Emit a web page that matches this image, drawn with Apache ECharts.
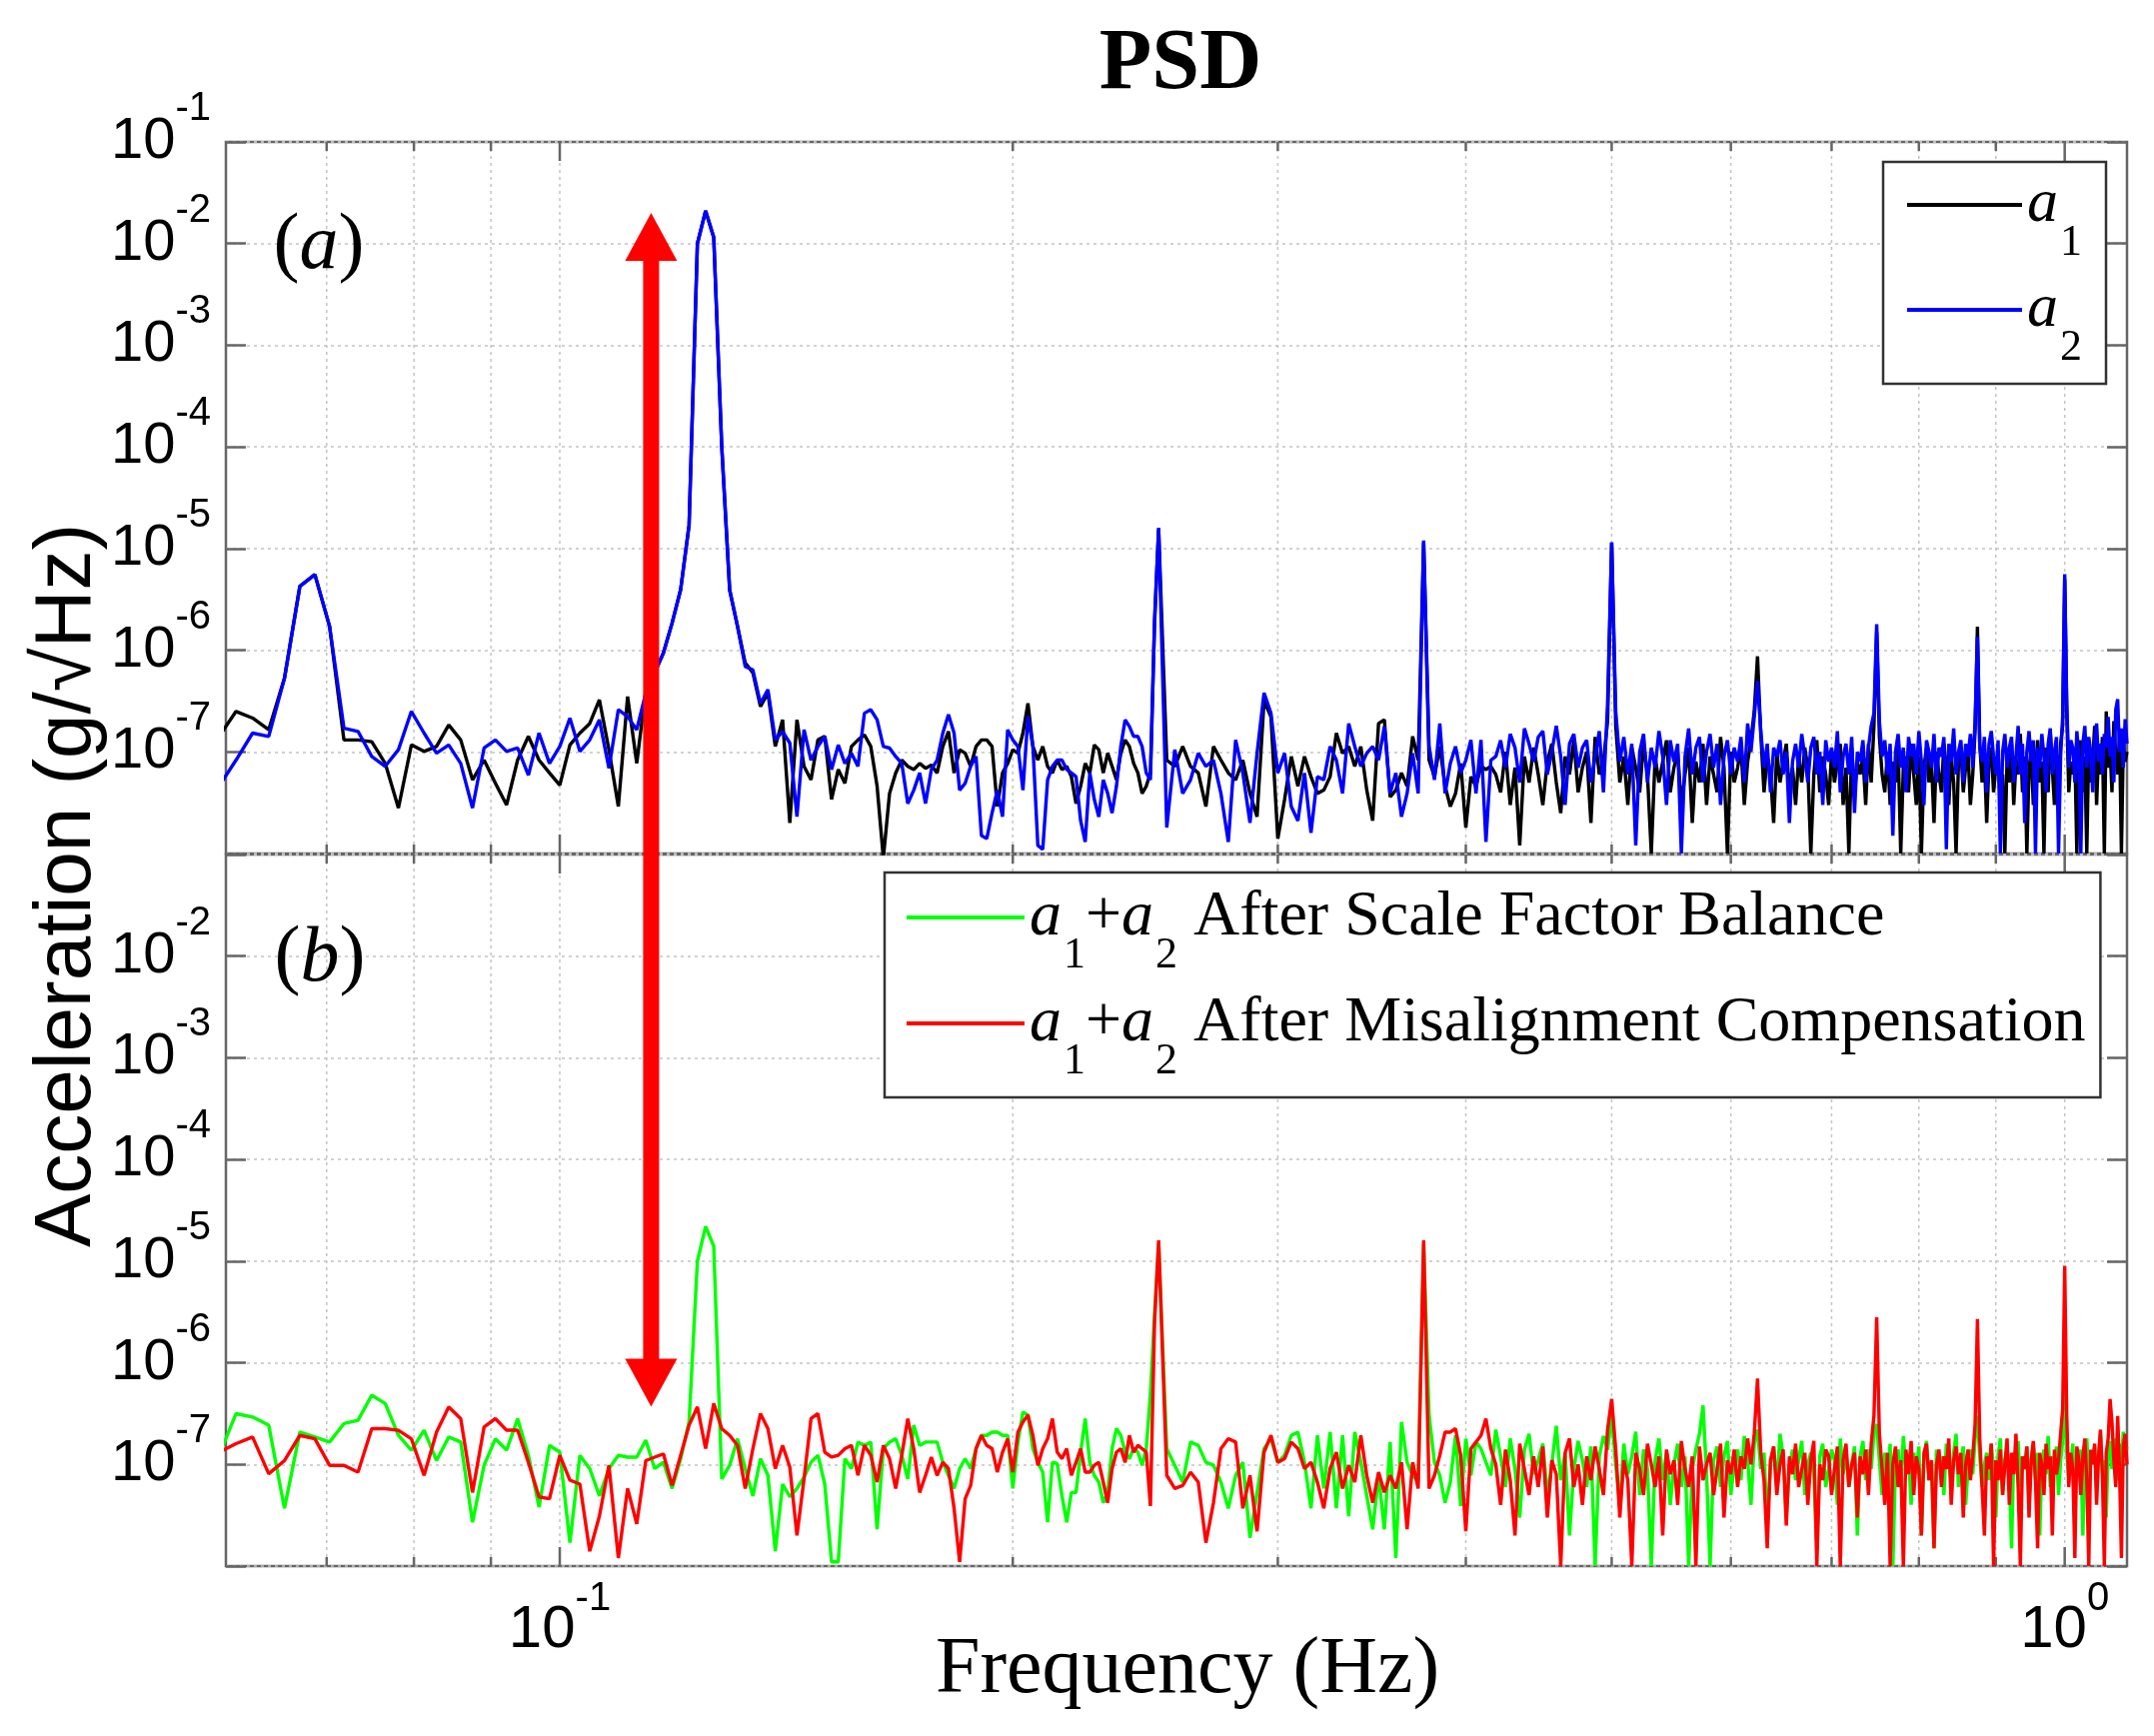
<!DOCTYPE html>
<html>
<head>
<meta charset="utf-8">
<title>PSD</title>
<script src="https://cdn.jsdelivr.net/npm/echarts@6/dist/echarts.min.js"></script>
<style>
  html, body { margin: 0; padding: 0; background: #fff; }
  #chart { width: 2155px; height: 1737px; }
</style>
</head>
<body>
<div id="chart"></div>
<script>
// FFT bins of 1/640 Hz: every bin up to 0.25 Hz, every other bin above
const BIN_HZ = 1 / 640;
const LOW_BINS = [38, 160];   // step 1
const HIGH_BINS = [162, 704]; // step 2
const UNIT = 1e-8;            // values below are in units of 1e-8 g/sqrt(Hz)

// (a) a1, k = 38..160
const a1Low = [
  14.2, 25, 21.5, 16.5, 53, 425, 555, 172, 13.1, 13.1,
  12.6, 7.7, 2.8, 11.7, 10.1, 11.3, 18.4, 13.1, 5.3, 8.3,
  4.9, 3.0, 8.3, 14.2, 8.3, 6.2, 4.7, 11.7, 15.3, 19,
  32.5, 10.5, 2.9, 35, 7.7, 40, 60, 94, 185, 394,
  1700, 1e6, 2.1e6, 1.15e6, 1e4, 390, 172, 75, 60, 28,
  38, 11.3, 20.7, 2.0, 20.7, 7.2, 5.3, 13.1, 14.2, 3.4,
  6.7, 4.9, 11.3, 13.1, 14.7,
  11.3, 4.6, 0.9, 3.9, 6.2, 8.3, 7.2, 6.7, 7.7, 6.9,
  7.4, 6.2, 11.3, 15.9, 6.2, 10.5, 9.7, 7.2, 11.3, 13.1,
  13.1, 11.3, 2.9, 6.2, 7.7, 10.5, 9.7, 15.3, 30, 11.3,
  8.3, 11.3, 7.2, 6.2, 8.3, 6.7, 7.2, 5.7, 3.1, 4.6,
  7.7, 6.2, 11.7, 10.5, 6.2, 9.7, 7.2, 5.3, 9.7, 13.1,
  11.3, 7.7, 6.2, 3.9, 4.6, 6.2, 180, 1550
];
// (a) a1, k = 162..704 step 2
const a1High = [
  8.3, 7.2, 11.3, 7.2, 6.2, 2.9, 11.3, 8.3, 6.2, 5.3,
  8.3, 3.9, 2.3, 32, 22, 1.4, 3.4, 9.0, 4.6, 9.0,
  5.7, 3.9, 4.2, 5.7, 15.3, 9.7, 11.3, 7.2, 11.3, 4.2,
  2.1, 19, 20.7, 3.6, 4.2, 6.2, 4.6, 14.2, 8.3, 1150,
  8.3, 5.7, 11.3, 4.6, 2.9, 3.9, 7.7, 1.8, 5.7, 4.6,
  7.2, 6.7, 7.2,
  6, 4, 10, 3, 7, 1.2, 9, 5, 11, 6,
  3, 8, 12, 5, 2.5, 9, 6, 13, 4, 7,
  10, 2, 14, 6, 8, 20, 1150, 18, 5, 9,
  3, 11, 7, 4, 12, 6, 1.0, 9, 5, 8,
  13, 4, 7, 10, 3, 6, 11, 2, 8, 5,
  12, 3, 9, 6, 4, 14, 7, 1.0, 10, 5,
  7, 11, 3, 8, 13, 25, 87, 15, 4, 9,
  6, 2, 10, 5, 8, 12, 4, 7, 3, 9,
  5, 11, 7, 1.0, 6, 13, 4, 9, 6, 3,
  10, 5, 8, 12, 3, 7, 1.0, 11, 4, 8,
  6, 9, 3, 12, 5, 18, 150, 14, 6, 4,
  10, 3, 8, 5, 11, 1.0, 7, 9, 4, 12,
  6, 3, 9, 1.0, 7, 11, 5, 8, 2, 10,
  6, 4, 12, 7, 3, 9, 5, 1.0, 8, 11,
  4, 7, 10, 3, 6, 16, 170, 12, 5, 9,
  2, 8, 11, 4, 7, 10, 3, 6, 1.0, 9,
  5, 12, 3, 8, 6, 15, 4, 9, 1.0, 7,
  10, 3, 6, 13, 5, 8, 1.0, 11, 4, 16,
  7, 3, 9, 5, 12, 18, 500, 25, 4, 8,
  6, 10, 1.0, 7, 13, 4, 9, 1.0, 12, 5,
  8, 18, 3, 10, 6, 14, 1.0, 25, 7, 11,
  4, 20, 9, 6, 15, 1.0, 12, 8, 10
];

// (a) a2
const a2Low = [
  4.6, 8.3, 15.3, 14.2, 53, 425, 555, 172, 17.1, 15.9,
  9.0, 7.2, 10.5, 25, 15.3, 9.7, 11.7, 7.7, 2.8, 10.9,
  13.1, 10.1, 10.9, 5.9, 15.3, 7.7, 11.3, 21.5, 10.1, 13.1,
  20.7, 6.9, 26, 22.3, 16.5, 38, 60, 94, 185, 394,
  1700, 1e6, 2.1e6, 1.15e6, 1e4, 390, 172, 69, 64, 30,
  41, 13.1, 15.9, 12.2, 2.3, 16.5, 8.3, 11.3, 14.2, 6.7,
  11.7, 7.7, 9.7, 7.2, 24,
  26, 20.7, 11.3, 10.9, 9.0, 7.7, 3.1, 4.2, 6.2, 3.1,
  6.7, 8.3, 15.3, 23.2, 15.3, 4.2, 4.9, 7.2, 9.0, 1.5,
  1.4, 2.5, 4.2, 2.3, 16.5, 13.1, 11.3, 4.2, 22.3, 11.3,
  1.2, 1.1, 5.3, 7.2, 8.3, 8.3, 6.7, 6.2, 5.7, 2.1,
  1.3, 6.2, 3.4, 2.3, 5.3, 3.9, 2.5, 4.6, 11.3, 20.7,
  17.8, 14.2, 14.2, 11.3, 6.2, 5.3, 200, 1600
];
const a2High = [
  1.8, 10.5, 3.9, 5.3, 9.7, 7.2, 8.3, 3.9, 1.3, 13.1,
  6.2, 2.0, 9.7, 38, 24, 6.2, 9.7, 2.9, 2.1, 6.2,
  1.6, 5.7, 5.3, 11.3, 8.3, 3.9, 19, 11.3, 7.2, 9.7,
  11.3, 8.3, 17.8, 3.9, 6.2, 2.3, 3.9, 9.7, 3.9, 1200,
  11.3, 5.3, 19, 3.9, 7.7, 11.3, 6.2, 8.3, 13.1, 3.9,
  13.1, 1.3, 8.3,
  9, 13, 7, 15, 11, 5, 17, 12, 8, 14,
  16, 6, 10, 18, 9, 3, 12, 15, 7, 11,
  13, 5, 9, 16, 4, 30, 1150, 25, 8, 14,
  6, 12, 1.2, 10, 15, 5, 11, 7, 16, 9,
  3, 13, 8, 12, 1.0, 9, 17, 6, 11, 14,
  5, 10, 15, 7, 12, 3, 9, 13, 6, 11,
  8, 14, 5, 19, 10, 22, 50, 16, 7, 12,
  4, 11, 9, 13, 6, 10, 2, 8, 12, 7,
  15, 9, 5, 11, 14, 6, 10, 3, 13, 8,
  11, 7, 16, 4, 9, 12, 6, 14, 2.5, 10,
  8, 13, 5, 11, 18, 24, 180, 20, 9, 13,
  6, 12, 1.5, 10, 15, 7, 11, 4, 14, 9,
  12, 6, 16, 8, 3, 13, 10, 7, 15, 5,
  11, 9, 14, 1.1, 12, 8, 17, 6, 10, 13,
  5, 12, 9, 15, 7, 20, 135, 11, 8, 14,
  4, 12, 16, 9, 6, 13, 1.0, 10, 15, 7,
  11, 14, 5, 9, 18, 6, 12, 2, 10, 16,
  8, 13, 1.0, 11, 7, 15, 9, 4, 12, 17,
  6, 10, 14, 1.0, 9, 22, 560, 30, 7, 13,
  11, 5, 16, 9, 1.0, 12, 18, 7, 14, 10,
  4, 13, 19, 8, 12, 6, 15, 11, 22, 9,
  14, 5, 26, 33, 10, 17, 7, 21, 12
];

// (b) a1+a2 after scale factor balance
const sfbLow = [
  12.3, 31.6, 29.3, 24.3, 3.7, 20.8, 18.6, 16.6, 25.2, 27.2,
  48, 39.7, 19.3, 13.8, 21.7, 10.9, 18.6, 16.6, 2.7, 9.8,
  17.9, 13.8, 28.2, 12.3, 3.8, 15.4, 13.2, 1.7, 12.3, 9.1,
  4.9, 9.1, 12.3, 11.8, 11.8, 17.3, 9.1, 10.5, 5.8, 11.4,
  26.2, 1000, 2200, 1400, 7.2, 9.8, 17.9, 9.1, 4.9, 11.4,
  7.8, 1.4, 6.4, 4.8, 5.8, 7.5, 10.5, 12.3, 6.4, 1.1,
  1.1, 11.4, 9.1, 16.6, 15.4,
  16.6, 2.3, 14.3, 16.6, 17.9, 12.3, 7.2, 24.3, 15.4, 16.6,
  16.6, 16.6, 10.5, 7.8, 5.8, 9.1, 11.4, 9.1, 14.3, 19.3,
  19.3, 20.8, 20.8, 19.3, 19.3, 5.8, 16.6, 32.8, 30.5, 14.3,
  10.5, 8.4, 2.7, 10.5, 10.2, 4.9, 2.7, 5.3, 5.3, 13.2,
  28.2, 10.5, 7.8, 6.7, 4.2, 5.3, 14.3, 22.5, 19.3, 13.2,
  11.4, 14.3, 13.2, 9.8, 14.3, 50, 300, 1500
];
const sfbHigh = [
  14.3, 9.8, 6.7, 16.6, 15.4, 10.5, 9.8, 6.7, 3.7, 7.8,
  10.5, 1.9, 5.3, 14.3, 17.9, 10.5, 12.3, 19.3, 20.8, 10.5,
  3.7, 19.3, 5.8, 20.8, 3.7, 19.3, 3.1, 20.8, 10.5, 4.9,
  2.3, 7.8, 2.3, 16.6, 1.2, 26.2, 10.5, 7.8, 6.7, 1500,
  30.5, 10.5, 7.8, 4.2, 6.7, 19.3, 3.9, 17.9, 7.8, 16.6,
  14.3, 10.5, 7.8,
  22, 12, 6, 18, 9, 3, 14, 20, 8, 11,
  16, 5, 10, 24, 7, 13, 2, 9, 17, 11,
  6, 15, 1.0, 12, 19, 14, 30, 10, 4, 16,
  8, 12, 21, 5, 14, 9, 1.0, 11, 18, 7,
  13, 4, 10, 16, 6, 12, 1.0, 9, 14, 20,
  38, 8, 1.0, 11, 15, 6, 12, 17, 5, 10,
  14, 7, 19, 11, 4, 16, 22, 9, 13, 2.5,
  10, 15, 6, 20, 12, 3, 9, 14, 7, 11,
  17, 5, 10, 13, 8, 1.5, 12, 16, 6, 9,
  14, 11, 4, 18, 8, 13, 6, 10, 15, 2,
  12, 17, 7, 14, 9, 20, 25, 11, 5, 13,
  8, 16, 1.0, 10, 14, 6, 19, 9, 12, 4,
  13, 8, 15, 2, 11, 17, 7, 10, 1.5, 14,
  9, 12, 5, 16, 10, 7, 13, 20, 6, 11,
  15, 4, 9, 14, 8, 18, 30, 12, 6, 10,
  13, 7, 16, 9, 3, 12, 18, 5, 11, 14,
  8, 1.5, 13, 10, 17, 6, 12, 9, 15, 4,
  11, 16, 7, 13, 2, 10, 14, 8, 19, 6,
  12, 9, 15, 5, 11, 17, 60, 13, 7, 10,
  16, 4, 12, 9, 14, 2, 11, 18, 7, 13,
  10, 15, 6, 12, 20, 8, 11, 3, 14, 17,
  9, 13, 18, 7, 16, 10, 21, 12, 15
];

// (b) a1+a2 after misalignment compensation
const macLow = [
  13.2, 16, 18.6, 8.1, 10.9, 19.3, 17.9, 9.8, 9.8, 8.4,
  22.5, 22.5, 21.7, 17.9, 7.8, 20.8, 36.8, 28.2, 5.3, 23.3,
  28.2, 21.7, 21.7, 10.5, 4.8, 4.6, 12.3, 7.0, 6.4, 1.4,
  3.1, 9.8, 1.2, 5.8, 2.6, 10.9, 11.8, 12.7, 6.2, 12.3,
  24.3, 36.8, 14.3, 39.7, 22.5, 19.3, 15.4, 5.8, 14.3, 31.6,
  22.5, 9.1, 15.4, 9.4, 2.0, 7.2, 28.2, 31.6, 13.2, 11.8,
  12.3, 14.3, 15.4, 7.8, 15.4,
  12.3, 6.7, 15.4, 11.4, 5.8, 12.3, 28.2, 14.3, 5.3, 7.8,
  11.8, 7.8, 10.5, 9.1, 3.7, 1.1, 4.6, 6.2, 14.3, 19.3,
  15.4, 14.3, 8.4, 13.2, 17.9, 8.4, 20.8, 26.2, 30.5, 19.3,
  9.8, 14.3, 17.9, 28.2, 13.2, 11.4, 14.3, 7.8, 10.5, 14.3,
  8.4, 8.4, 9.8, 10.5, 6.7, 4.2, 9.1, 13.2, 14.3, 10.5,
  19.3, 13.2, 15.4, 14.3, 13.2, 3.9, 250, 1600
];
const macHigh = [
  7.8, 5.8, 6.2, 8.4, 6.7, 1.7, 4.2, 14.3, 17.9, 16.6,
  3.7, 7.8, 2.2, 13.2, 19.3, 10.5, 11.4, 16.6, 14.3, 9.1,
  10.5, 6.7, 3.7, 9.1, 13.2, 5.8, 9.8, 6.7, 19.3, 7.8,
  4.2, 8.4, 5.3, 7.8, 5.8, 10.5, 2.3, 10.5, 5.8, 1600,
  5.8, 7.8, 12.3, 20.8, 20.8, 22.5, 12.3, 2.2, 14.3, 16.6,
  19.3, 28.2, 14.3,
  10, 4, 14, 7, 2, 16, 9, 5, 12, 6,
  15, 3, 11, 8, 1.0, 13, 18, 6, 10, 4,
  12, 7, 15, 9, 5, 22, 44, 14, 3, 11,
  7, 1.0, 13, 9, 5, 16, 10, 6, 12, 2,
  14, 8, 11, 4, 17, 9, 6, 12, 1.0, 15,
  7, 10, 13, 5, 9, 16, 3, 11, 8, 14,
  6, 12, 9, 18, 10, 20, 70, 13, 7, 1.5,
  11, 15, 5, 10, 14, 2.5, 12, 8, 16, 6,
  9, 13, 4, 11, 17, 1.0, 10, 7, 14, 12,
  5, 9, 15, 1.0, 11, 16, 6, 10, 13, 3,
  12, 8, 14, 5, 16, 30, 280, 20, 9, 4,
  13, 1.0, 10, 15, 6, 11, 1.0, 14, 8, 17,
  5, 12, 9, 2, 13, 16, 7, 11, 1.5, 10,
  14, 6, 12, 9, 18, 4, 11, 15, 8, 13,
  3, 10, 14, 7, 12, 25, 270, 18, 6, 2,
  12, 9, 16, 1.0, 11, 7, 14, 5, 10, 18,
  4, 13, 8, 20, 6, 1.0, 12, 9, 15, 3,
  11, 17, 7, 1.5, 13, 10, 5, 16, 9, 12,
  2, 14, 8, 11, 20, 35, 900, 30, 6, 13,
  9, 1.2, 15, 11, 5, 12, 18, 7, 1.0, 14,
  10, 16, 4, 12, 22, 8, 1.0, 13, 18, 44,
  26, 11, 6, 30, 9, 1.2, 15, 20, 10
];

const xGridValues = [0.07, 0.08, 0.09, 0.1, 0.2, 0.3, 0.4, 0.5, 0.6, 0.7, 0.8, 0.9, 1];
const xMajorValues = [0.1, 1];

// double arrow between the two panels
const arrowFreq = 0.115;
const arrowTopValue = 2.0e-2;
const arrowBottomValue = 3.7e-7;

const SANS = '"Liberation Sans", Arial, sans-serif';
const SERIF = '"Liberation Serif", "Times New Roman", serif';
const FRAME = '#666';

function bins(from, to, step) {
  const out = [];
  for (let k = from; k <= to; k += step) out.push(k * BIN_HZ);
  return out;
}
const freqs = bins(LOW_BINS[0], LOW_BINS[1], 1).concat(bins(HIGH_BINS[0], HIGH_BINS[1], 2));

function pairs(low, high) {
  const v = low.concat(high);
  const n = Math.min(v.length, freqs.length);
  const out = [];
  for (let i = 0; i < n; i++) out.push([freqs[i], v[i] * UNIT]);
  return out;
}

function powLabel(value, lo, hi) {
  const e = Math.log10(value);
  const r = Math.round(e);
  if (Math.abs(e - r) > 1e-6 || r < lo || r > hi) return '';
  return '{b|10}{s|' + r + '}';
}

const yRich = {
  b: { fontFamily: SANS, fontSize: 58, lineHeight: 106, color: '#000' },
  s: { fontFamily: SANS, fontSize: 40, lineHeight: 40, verticalAlign: 'top', color: '#000' }
};
const xRich = {
  b: { fontFamily: SANS, fontSize: 60, lineHeight: 102, color: '#000' },
  s: { fontFamily: SANS, fontSize: 40, lineHeight: 40, verticalAlign: 'top', color: '#000' }
};

function yAxisDef(gridIndex, right, lo, hi) {
  return {
    type: 'log', logBase: 10, gridIndex: gridIndex, min: 1e-8, max: 1e-1,
    position: right ? 'right' : 'left',
    axisLine: { show: false },
    axisTick: { show: true, inside: true, length: 20, lineStyle: { color: FRAME, width: 2.5 } },
    axisLabel: right ? { show: false } : {
      show: true, margin: 15,
      formatter: function (v) { return powLabel(v, lo, hi); },
      rich: yRich
    },
    splitLine: { show: !right, lineStyle: { color: '#c4c4c4', width: 1.5, type: [3, 4] } }
  };
}

function xAxisDef(gridIndex, withLabels) {
  return {
    type: 'log', logBase: 10, gridIndex: gridIndex, min: 0.06, max: 1.1,
    axisLine: { show: false },
    axisTick: { show: false },
    splitLine: { show: false },
    axisLabel: withLabels ? {
      show: true, margin: 13,
      formatter: function (v) { return powLabel(v, -5, 5); },
      rich: xRich
    } : { show: false }
  };
}

function xGridRender(params, api) {
  const cs = params.coordSys;
  const v = api.value(0);
  const x = api.coord([v, 1e-4])[0];
  const len = xMajorValues.indexOf(v) >= 0 ? 19 : 9;
  const tick = { stroke: FRAME, lineWidth: 2.5 };
  return {
    type: 'group',
    children: [
      { type: 'line', shape: { x1: x, y1: cs.y, x2: x, y2: cs.y + cs.height },
        style: { stroke: '#c4c4c4', lineWidth: 1.5, lineDash: [3, 4] } },
      { type: 'line', shape: { x1: x, y1: cs.y + cs.height, x2: x, y2: cs.y + cs.height - len }, style: tick },
      { type: 'line', shape: { x1: x, y1: cs.y, x2: x, y2: cs.y + len }, style: tick }
    ]
  };
}

function lineSeries(name, color, xi, yi, data) {
  return {
    name: name, type: 'line', xAxisIndex: xi, yAxisIndex: yi,
    data: data, symbol: 'none', showSymbol: false, clip: true,
    lineStyle: { color: color, width: 3.4 }, itemStyle: { color: color },
    z: 3, silent: true
  };
}

const NAME_A1 = 'a1', NAME_A2 = 'a2';
const NAME_SFB = 'a1+a2 After Scale Factor Balance';
const NAME_MAC = 'a1+a2 After Misalignment Compensation';
const legendText = {};
legendText[NAME_A1] = '{m|a}{s|1}';
legendText[NAME_A2] = '{m|a}{s|2}';
legendText[NAME_SFB] = '{m|a}{s|1}{p|+}{m|a}{s|2}{p| After Scale Factor Balance}';
legendText[NAME_MAC] = '{m|a}{s|1}{p|+}{m|a}{s|2}{p| After Misalignment Compensation}';

function legendRich(size) {
  return {
    m: { fontFamily: SERIF, fontStyle: 'italic', fontSize: size, lineHeight: size, verticalAlign: 'top', color: '#000' },
    p: { fontFamily: SERIF, fontSize: size, lineHeight: size, verticalAlign: 'top', color: '#000' },
    s: { fontFamily: SERIF, fontSize: 44, lineHeight: 44, verticalAlign: 'top', padding: [Math.round(size * 0.75), 0, 0, 2], color: '#000' }
  };
}

const chart = echarts.init(document.getElementById('chart'));
chart.setOption({
  animation: false,
  backgroundColor: '#fff',
  grid: [
    { left: 226, top: 142, width: 1902, height: 712, show: true, borderColor: FRAME, borderWidth: 2.5, outerBoundsMode: 'none' },
    { left: 226, top: 855, width: 1902, height: 712, show: true, borderColor: FRAME, borderWidth: 2.5, outerBoundsMode: 'none' }
  ],
  xAxis: [xAxisDef(0, false), xAxisDef(1, true)],
  yAxis: [yAxisDef(0, false, -7, -1), yAxisDef(0, true), yAxisDef(1, false, -7, -2), yAxisDef(1, true)],
  legend: [
    {
      orient: 'vertical', left: 1884, top: 162,
      data: [NAME_A1, NAME_A2],
      icon: 'rect', itemWidth: 115, itemHeight: 4, itemGap: 14,
      padding: [12, 24, 14, 24],
      borderColor: '#333', borderWidth: 2.5, backgroundColor: '#fff',
      selectedMode: false,
      formatter: function (name) { return legendText[name]; },
      textStyle: { color: '#000', rich: legendRich(62) }
    },
    {
      orient: 'vertical', left: 885, top: 873,
      data: [NAME_SFB, NAME_MAC],
      icon: 'rect', itemWidth: 118, itemHeight: 4, itemGap: 14,
      padding: [13, 15, 14, 22],
      borderColor: '#333', borderWidth: 2.5, backgroundColor: '#fff',
      selectedMode: false,
      formatter: function (name) { return legendText[name]; },
      textStyle: { color: '#000', rich: legendRich(64) }
    }
  ],
  series: [
    { type: 'custom', xAxisIndex: 0, yAxisIndex: 0, silent: true, z: 1,
      data: xGridValues.map(function (v) { return [v, 1e-4]; }), renderItem: xGridRender },
    { type: 'custom', xAxisIndex: 1, yAxisIndex: 2, silent: true, z: 1,
      data: xGridValues.map(function (v) { return [v, 1e-4]; }), renderItem: xGridRender },
    lineSeries(NAME_A1, '#000000', 0, 0, pairs(a1Low, a1High)),
    lineSeries(NAME_A2, '#0000ff', 0, 0, pairs(a2Low, a2High)),
    lineSeries(NAME_SFB, '#00ff00', 1, 2, pairs(sfbLow, sfbHigh)),
    lineSeries(NAME_MAC, '#ff0000', 1, 2, pairs(macLow, macHigh))
  ]
});

// annotations placed after the axes exist
const pTop = chart.convertToPixel({ xAxisIndex: 0, yAxisIndex: 0 }, [arrowFreq, arrowTopValue]);
const pBot = chart.convertToPixel({ xAxisIndex: 1, yAxisIndex: 2 }, [arrowFreq, arrowBottomValue]);
const ax = pTop[0], yT = pTop[1], yB = pBot[1];
const shaft = 8, head = 26, headLen = 48;

const panelRich = {
  p: { fontFamily: SERIF, fontSize: 78, color: '#000' },
  i: { fontFamily: SERIF, fontStyle: 'italic', fontSize: 78, color: '#000' }
};

chart.setOption({
  graphic: [
    {
      type: 'text', x: 1181, y: 66, z: 100,
      style: { text: 'PSD', font: 'bold 86px ' + SERIF, fill: '#000',
        align: 'center', verticalAlign: 'middle', textAlign: 'center', textVerticalAlign: 'middle' }
    },
    {
      type: 'text', x: 1188, y: 1672, z: 100,
      style: { text: 'Frequency (Hz)', font: '80px ' + SERIF, fill: '#000',
        align: 'center', verticalAlign: 'middle', textAlign: 'center', textVerticalAlign: 'middle' }
    },
    {
      type: 'text', x: 68, y: 886, rotation: Math.PI / 2, z: 100,
      style: { text: 'Acceleration (g/\u221AHz)', font: '80px ' + SANS, fill: '#000',
        align: 'center', verticalAlign: 'middle', textAlign: 'center', textVerticalAlign: 'middle' }
    },
    {
      type: 'text', x: 319, y: 247, z: 100,
      style: { text: '{p|(}{i|a}{p|)}', align: 'center', verticalAlign: 'middle', textAlign: 'center', textVerticalAlign: 'middle', rich: panelRich }
    },
    {
      type: 'text', x: 320, y: 960, z: 100,
      style: { text: '{p|(}{i|b}{p|)}', align: 'center', verticalAlign: 'middle', textAlign: 'center', textVerticalAlign: 'middle', rich: panelRich }
    },
    {
      type: 'polygon', z: 100,
      shape: { points: [
        [ax, yT], [ax + head, yT + headLen], [ax + shaft, yT + headLen],
        [ax + shaft, yB - headLen], [ax + head, yB - headLen], [ax, yB],
        [ax - head, yB - headLen], [ax - shaft, yB - headLen],
        [ax - shaft, yT + headLen], [ax - head, yT + headLen]
      ] },
      style: { fill: '#ff0000' }
    }
  ]
});
</script>
</body>
</html>
